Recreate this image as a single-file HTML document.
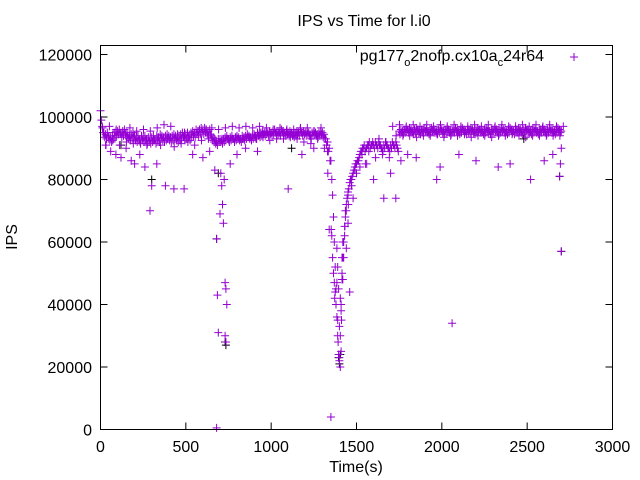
<!DOCTYPE html>
<html><head><meta charset="utf-8"><style>
body{margin:0;background:#fff}
svg{display:block}
text{font-family:"Liberation Sans",sans-serif;font-size:16px;fill:#000}
</style></head><body>
<svg id="chart" width="640" height="480" viewBox="0 0 640 480">
<rect width="640" height="480" fill="#fff"/>
<text x="364" y="26" text-anchor="middle">IPS vs Time for l.i0</text>
<text transform="translate(17,237) rotate(-90)" text-anchor="middle">IPS</text>
<text x="356" y="472" text-anchor="middle">Time(s)</text>
<g id="axes"></g>
<g id="marks"></g>
<rect x="100.5" y="45.5" width="512" height="384" fill="none" stroke="#000" stroke-width="1"/>
<g>
<text x="544" y="61" text-anchor="end">pg177<tspan font-size="11" dy="5">o</tspan><tspan dy="-5">2nofp.cx10a</tspan><tspan font-size="11" dy="5">c</tspan><tspan dy="-5">24r64</tspan></text>
<path d="M570,57h8M574,53v8" stroke="#9400d3" stroke-width="1"/>
</g>
</svg>
<script>
const xTicks=[0,500,1000,1500,2000,2500,3000];
const yTicks=[0,20000,40000,60000,80000,100000,120000];
const unitK=1000;
const bandStep=10;
// main band (thousands IPS), one value per 10 s starting t=0
const bandA=[102,97,95,94.5,95,94,93.5,94,95,95.5,
95.5,96,95,95.5,96,95,94.5,94,94.5,95,
94,93.5,94,93,94,93.5,94,93,93.5,93,
93.5,94,93,94,93.5,94.5,94,93.5,94,94.5,
94,93.5,94,94.5,94,93.5,94,94.5,95,94,
94.5,95,94,95,95.5,95,96,95.5,96,96.5,
96,96.5,96,95.5,96,94,93.5,93,92,93,
93,92.5,93,93.5,94,93,93.5,94,93,93.5,
94,93.5,93,94,93.5,94,94.5,94,93.5,94,
94.5,94,95,94.5,95,95.5,95,95.5,95,95.5,
95,95.5,96,95,95.5,95,96,95.5,95,95.5,
95,95.5,95,94.5,95,95.5,95,96,95,95.5,
95,95.5,95,94,95,95.5,95,94.5,95,95.5,
95,94.5,93,92,90,86,75,60,45,30,
23,40,55,65,72,76,79,80,82,84,
85,86,88,89,90,89,90,91,90,91,
91,92,91,92,91,90,91,92,91,90,
91,92,91,92,90,95.5,96,95.5,96,96.5,
96,96.5,96,95.5,96,96.5,96,95.5,96,96,
96.5,96,95.5,96,96.5,96,96,95.5,96,96.5,
96,95.5,96,96.5,96,95.5,96,96,96.5,96,
95.5,96,96.5,96,95.5,96,96,96.5,96,95.5,
96,96.5,96,96,95.5,96,96.5,96,95.5,96,
96,96.5,96,95.5,96,96.5,96,96,95.5,96,
96.5,96,95.5,96,96,96.5,96,95.5,96,96.5,
96,96,95.5,96,96.5,96,95.5,96,96,96.5,
96,95.5,96,96.5,96,96,95.5,96,96.5,96,95.5];
// second band pass, one value per 10 s starting t=5
const bandB=[99,95,93.5,93,93.5,92.5,92,93,93.5,94,
94.5,94.5,93.5,94,94.5,93.5,93,92.5,93,93.5,
92.5,92,92.5,91.5,92.5,92,92.5,91.5,92,91.5,
92,92.5,91.5,92.5,92,93,92.5,92,92.5,93,
92.5,92,92.5,93,92.5,92,92.5,93,93.5,92.5,
93,93.5,92.5,93.5,94,93.5,94.5,94,94.5,95,
94.5,95,94.5,94,94.5,92.5,92,91.5,91,92,
92,91.5,92,92.5,93,92,92.5,93,92,92.5,
93,92.5,92,93,92.5,93,93.5,93,92.5,93,
93.5,93,94,93.5,94,94.5,94,94.5,94,94.5,
94,94.5,95,94,94.5,94,95,94.5,94,94.5,
94,94.5,94,93.5,94,94.5,94,95,94,94.5,
94,94.5,94,93,94,94.5,94,93.5,94,94.5,
93.5,93,91,89,86,80,68,52,36,24,
30,48,60,68,74,77,80,81,83,85,
86,87,89,90,91,90,91,92,91,92,
90,91,90,91,90,89,90,91,90,89,
90,91,90,91,89,94.5,95,94.5,95,95.5,
95,95.5,95,94.5,95,95.5,95,94.5,95,95,
95.5,95,94.5,95,95.5,95,95,94.5,95,95.5,
95,94.5,95,95.5,95,94.5,95,95,95.5,95,
94.5,95,95.5,95,94.5,95,95,95.5,95,94.5,
95,95.5,95,95,94.5,95,95.5,95,94.5,95,
95,95.5,95,94.5,95,95.5,95,95,94.5,95,
95.5,95,94.5,95,95,95.5,95,94.5,95,95.5,
95,95,94.5,95,95.5,95,94.5,95,95,95.5,
95,94.5,95,95.5,95,95,94.5,95,95.5,95];
// third noisy pass, one value per 20 s starting t=12
const bandC=[96.5,91,97,92.5,96,91,95,92,96.5,91.5,
95.5,92,96,91,95.5,92.5,96.5,91,97.5,93,
97,90.5,94.5,91.5,95,92,94.5,91,95.5,92.5,
96,93,96.5,92.5,96,93,96.5,92.5,97,93.5,
96.5,93,97,93.5,96.5,93,97,93.5,96.5,92.5,
96,93,96.5,93,96,93.5,96,93,96.5,92,
96.5,91.5,95.5,93,96.5,90,82,64,42,28,
35,65,72,78,83,86,88,85,89,91,
87,93,88,92,87,97,94,97.5,94,97,
94,97.5,93.5,97,94,97.5,94,97,94.5,97.5,
93.5,97,94,97.5,94,97,94.5,97,93.5,97.5,
94,97,94,97.5,93.5,97,94,97.5,94,97,
94.5,97,94,97.5,93.5,97,94,97.5,94,97,
94,97.5,94,97,94,97];
// scattered outliers: times (s) and values (thousands IPS)
const outT=[30,60,90,120,150,180,200,230,260,290,300,330,380,430,490,540,600,640,670,680,680,685,690,700,705,710,715,720,725,730,730,735,735,740,760,800,850,920,1100,1180,1250,1330,1340,1350,1355,1360,1365,1370,1375,1380,1385,1390,1395,1400,1405,1410,1415,1420,1425,1430,1440,1450,1460,1470,1480,1500,1520,1560,1600,1660,1700,1730,1760,1800,1850,1970,1990,2060,2100,2200,2330,2400,2520,2600,2650,2690,2695,2700,2700,1385,1395,1400,1410,1420,1430,1440,1450,1390,1405,1415,1435];
const outV=[91,89,88,87,90,86,85,88,84,70,78,85,78,77,77,88,87,89,83,0.5,61,43,31,69,82,78,72,66,80,47,30,45,28,40,85,88,90,89,77,88,90,89,64,4,62,55,50,47,44,40,47,35,24,22,20,25,50,60,55,65,70,75,44,78,74,82,84,85,80,74,82,74,86,88,87,80,84,34,88,86,84,85,80,86,88,81,85,57,90,58,45,33,38,48,62,58,66,52,42,55,70];
// black series points (second trace)
const blkT=[680,690,730,735,1395,1400,1405,2690,2700,120,300,1120,2480];
const blkV=[61,82,28,27,23,21,24,81,57,91,80,90,93];

const L=100.5,R=612.5,B=429.5,T=45.5;
const xs=t=>L+(t-0)/(3000-0)*(R-L);
const ys=v=>B-(v-0)/(120000)*375;
const NS="http://www.w3.org/2000/svg";
const axes=document.getElementById('axes'),marks=document.getElementById('marks');
function txt(x,y,s,anchor,name){const e=document.createElementNS(NS,'text');e.setAttribute('x',x);e.setAttribute('y',y);e.setAttribute('text-anchor',anchor);e.textContent=s;


axes.appendChild(e);}
let d='';
xTicks.forEach(t=>{const x=xs(t);d+=`M${x},${B}v-7M${x},${T}v7`;txt(x,452,String(t),'middle','x-tick-label');});
yTicks.forEach(v=>{const y=ys(v);d+=`M${L},${y}h7M${R},${y}h-7`;txt(92,y+6,String(v),'end','y-tick-label');});
const tk=document.createElementNS(NS,'path');tk.setAttribute('d',d);tk.setAttribute('stroke','#000');tk.setAttribute('fill','none');


axes.appendChild(tk);
function cross(t,v){const x=xs(t),y=ys(v*unitK);return `M${(x-4).toFixed(1)},${y.toFixed(1)}h8M${x.toFixed(1)},${(y-4).toFixed(1)}v8`;}
let pb='';blkT.forEach((t,i)=>{pb+=cross(t,blkV[i]);});
let pp='';
bandA.forEach((v,i)=>{pp+=cross(i*bandStep,v);});
bandB.forEach((v,i)=>{pp+=cross(i*bandStep+5,v);});
bandC.forEach((v,i)=>{pp+=cross(i*20+12,v);});
outT.forEach((t,i)=>{pp+=cross(t,outV[i]);});
const p1=document.createElementNS(NS,'path');p1.setAttribute('d',pb);p1.setAttribute('stroke','#000');p1.setAttribute('fill','none');


marks.appendChild(p1);
const p2=document.createElementNS(NS,'path');p2.setAttribute('d',pp);p2.setAttribute('stroke','#9400d3');p2.setAttribute('fill','none');


marks.appendChild(p2);
</script>
</body></html>
